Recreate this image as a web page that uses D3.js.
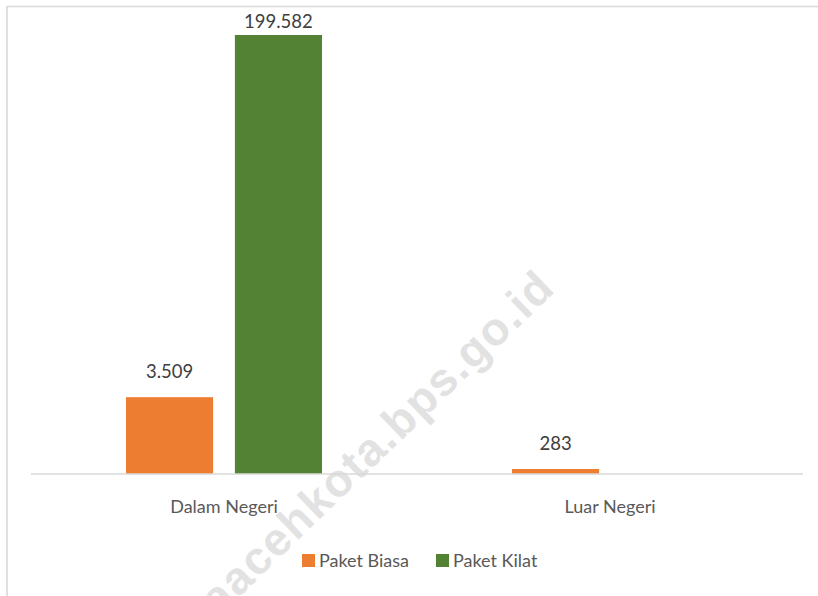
<!DOCTYPE html>
<html>
<head>
<meta charset="utf-8">
<script src="https://cdn.jsdelivr.net/npm/d3@7"></script>
<style>
 body{margin:0;background:#fff;}
 svg{display:block;font-family:Lato,"Open Sans",sans-serif;}
</style>
</head>
<body>
<div id="chart"></div>
<script>
var categories=["Dalam Negeri","Luar Negeri"];
var seriesNames=["Paket Biasa","Paket Kilat"];
var paketBiasa=[3509,283];
var paketKilat=[199582,null];
var colors=["#ED7D31","#548235"];

var W=818,H=596;
var baseY=474,topY=35,left=31,right=803;

var svg=d3.select("#chart").append("svg").attr("width",W).attr("height",H);

// chart frame (right and bottom edges fall outside the picture)
svg.append("rect").attr("x",7).attr("y",6.5).attr("width",900).attr("height",700)
 .attr("fill","none").attr("stroke","#d9d9d9").attr("stroke-width",1.6);

// watermark
svg.append("text").attr("transform","translate(557,290) rotate(-44)")
 .attr("text-anchor","end").attr("font-family","'Liberation Sans',Arial,sans-serif")
 .attr("font-weight","bold").attr("font-size",46).attr("letter-spacing",1.5).attr("fill","#e2e2e2")
 .text("bandaacehkota.bps.go.id");

var x0=d3.scaleBand().domain(categories).range([left,right]);
var x1=d3.scaleBand().domain(seriesNames).range([95,291]).paddingInner(0.2);

// bar heights in the source are not proportional to the printed values,
// so the scale is piecewise to reproduce the drawn heights
var all=paketBiasa.concat(paketKilat).filter(function(v){return v!=null;}).sort(d3.ascending);
var y=d3.scaleLinear().domain([0].concat(all)).range([0,0.0114,0.175,1].map(function(f){return baseY-f*(baseY-topY);}));

var rows=[];
categories.forEach(function(c,i){
 rows.push({cat:c,s:seriesNames[0],v:paketBiasa[i],k:0});
 rows.push({cat:c,s:seriesNames[1],v:paketKilat[i],k:1});
});
rows=rows.filter(function(d){return d.v!=null;});

svg.selectAll("rect.bar").data(rows).enter().append("rect").attr("class","bar")
 .attr("x",function(d){return x0(d.cat)+x1(d.s);})
 .attr("width",x1.bandwidth())
 .attr("y",function(d){return y(d.v);})
 .attr("height",function(d){return baseY-y(d.v);})
 .attr("fill",function(d){return colors[d.k];});

// category axis line
svg.append("line").attr("x1",left).attr("x2",right).attr("y1",baseY).attr("y2",baseY)
 .attr("stroke","#d9d9d9").attr("stroke-width",1.6);

var fmt=function(v){return d3.format(",")(v).replace(/,/g,".");};
svg.selectAll("text.lbl").data(rows).enter().append("text").attr("class","lbl")
 .attr("x",function(d){return x0(d.cat)+x1(d.s)+x1.bandwidth()/2;})
 .attr("y",function(d){return Math.max(y(d.v)-19,28);})
 .attr("text-anchor","middle").attr("font-size",18.5).attr("fill","#404040")
 .text(function(d){return fmt(d.v);});

svg.selectAll("text.cat").data(categories).enter().append("text").attr("class","cat")
 .attr("x",function(d){return x0(d)+x0.bandwidth()/2;}).attr("y",513)
 .attr("text-anchor","middle").attr("font-size",18).attr("fill","#595959")
 .text(function(d){return d;});

// legend
var lg=svg.append("g");
var lx=[302,436];
seriesNames.forEach(function(s,i){
 lg.append("rect").attr("x",lx[i]).attr("y",554).attr("width",13).attr("height",13).attr("fill",colors[i]);
 lg.append("text").attr("x",lx[i]+17).attr("y",567).attr("font-size",18).attr("fill","#595959").text(s);
});
</script>
</body>
</html>
